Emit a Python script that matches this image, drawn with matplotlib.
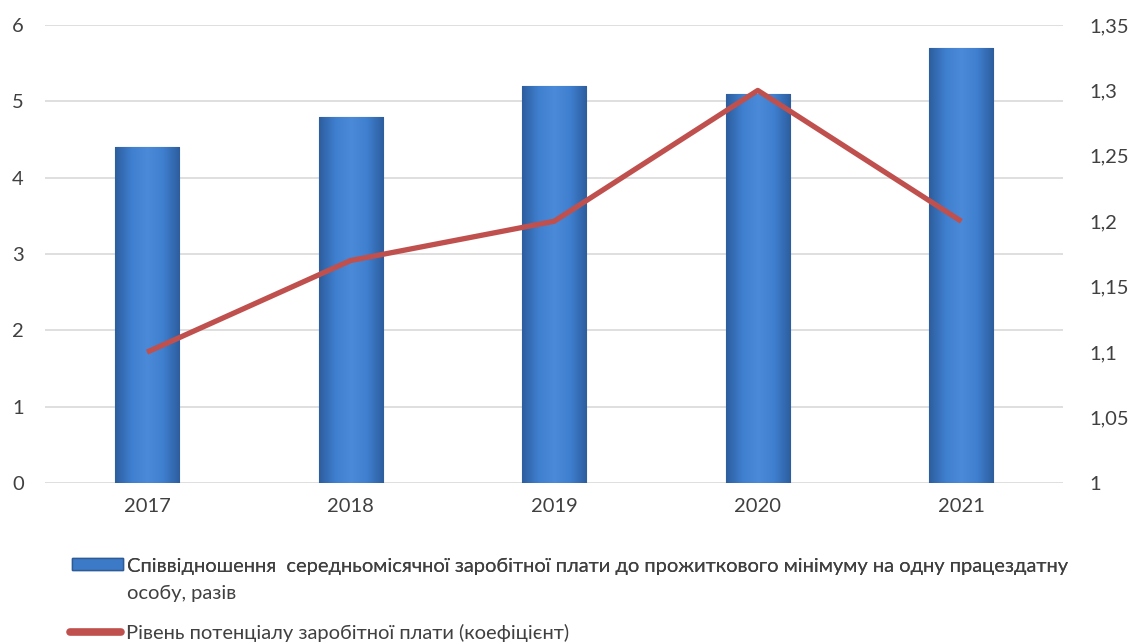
import matplotlib.pyplot as plt
import numpy as np
from matplotlib.colors import LinearSegmentedColormap
from matplotlib.patches import Patch
from matplotlib.lines import Line2D
from matplotlib.ticker import FuncFormatter

plt.rcParams['font.family'] = ['Lato', 'DejaVu Sans']

# data
years = ['2017', '2018', '2019', '2020', '2021']
ratio = [4.4, 4.8, 5.2, 5.1, 5.7]
potential = [1.1, 1.17, 1.2, 1.3, 1.2]

bar_label = 'Співвідношення  середньомісячної заробітної плати до прожиткового мінімуму на одну працездатну'
bar_label_2 = 'особу, разів'
line_label = 'Рівень потенціалу заробітної плати (коефіцієнт)'

text_col = '#404040'
bar_col = '#3C79C6'
line_col = '#C0504D'
fs = 14.5

fig = plt.figure(figsize=(11.31, 6.44), dpi=100)
ax = fig.add_axes([0.040, 0.25, 0.900, 0.7112])
ax2 = ax.twinx()

x = np.arange(len(years))
bars = ax.bar(x, ratio, width=0.315, color=bar_col, edgecolor='#2C5B98', linewidth=0.8, zorder=2)

# shading inside each bar to mimic the bevel look
cmap = LinearSegmentedColormap.from_list('bev', ['#2D5E9E', '#3F7FCF', '#4A8AD8', '#3F7FCF', '#2D5E9E'])
grad = np.linspace(0, 1, 64).reshape(1, -1)
for b in bars:
    im = ax.imshow(grad, cmap=cmap, aspect='auto', zorder=2.5,
                   extent=[b.get_x(), b.get_x() + b.get_width(), 0, b.get_height()])
    im.set_clip_path(b)

ax.set_xlim(-0.5, len(years) - 0.5)
ax.set_ylim(0, 6)
ax.set_yticks(range(0, 7))
ax.set_xticks(x)
ax.set_xticklabels(years)
ax.yaxis.grid(True, color='#D9D9D9', linewidth=1.2, zorder=0)
ax.set_axisbelow(True)

ax2.plot(x, potential, color=line_col, linewidth=3.8, solid_capstyle='butt', zorder=3)
ax2.set_ylim(1, 1.35)
ax2.set_yticks([1, 1.05, 1.1, 1.15, 1.2, 1.25, 1.3, 1.35])
ax2.yaxis.set_major_formatter(FuncFormatter(lambda v, p: f'{v:g}'.replace('.', ',')))

for a in (ax, ax2):
    for s in a.spines.values():
        s.set_visible(False)
    a.tick_params(length=0, labelsize=fs, colors=text_col)
ax.tick_params(axis='x', pad=11)
ax2.tick_params(axis='y', pad=19)
for lbl in ax.get_yticklabels():
    lbl.set_horizontalalignment('left')
ax.tick_params(axis='y', pad=24)

# legend below the chart
h1 = Patch(facecolor=bar_col, edgecolor='#2C5B98')
h2 = Line2D([0], [0], color=line_col, linewidth=5.5, solid_capstyle='round')
common = dict(loc='center left', frameon=False, fontsize=fs, handlelength=2.55,
              handleheight=0.55, handletextpad=0.2, borderpad=0, borderaxespad=0,
              labelcolor=text_col)
leg1 = fig.legend([h1], [bar_label], bbox_to_anchor=(0.0637, 1 - 566 / 644), **common)
fig.add_artist(leg1)
fig.legend([h2], [line_label], bbox_to_anchor=(0.0620, 1 - 633 / 644), **common)
fig.text(127 / 1131, 1 - 593 / 644, bar_label_2, fontsize=fs, color=text_col, va='center')

fig.savefig('out.png', dpi=100)
